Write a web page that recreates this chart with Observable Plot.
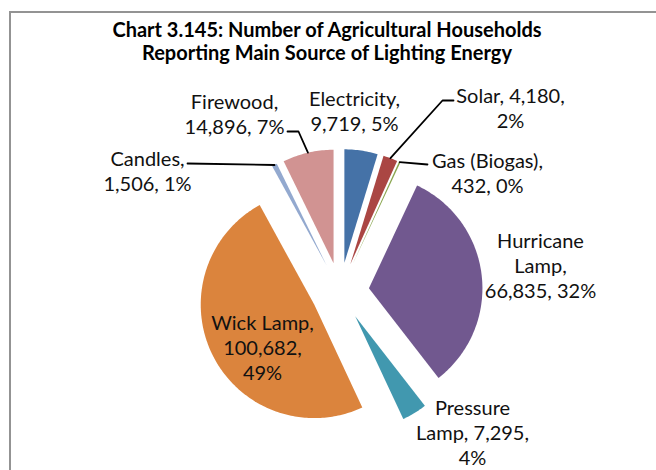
<!DOCTYPE html>
<html><head><meta charset="utf-8">
<script src="https://cdn.jsdelivr.net/npm/d3@7"></script>
<script src="https://cdn.jsdelivr.net/npm/@observablehq/plot@0.6"></script>
<style>
html,body{margin:0;padding:0;background:#fff;overflow:hidden;width:656px;height:470px;}
#frame{position:absolute;left:9px;top:11px;width:800px;height:600px;border:2px solid #939393;box-sizing:border-box;}
#title{position:relative;padding-top:18px;height:47px;font-family:Lato,sans-serif;font-weight:bold;font-size:20px;line-height:23px;text-align:center;width:654px;color:#000;white-space:nowrap;}
#chart{position:relative;height:405px;}
</style></head><body>
<div id="frame"></div>
<div id="title">Chart 3.145: Number of Agricultural Households<br>Reporting Main Source of Lighting Energy</div>
<div id="chart"></div>
<script>
// ---- data ----
const categories = ["Electricity","Solar","Gas (Biogas)","Hurricane Lamp","Pressure Lamp","Wick Lamp","Candles","Firewood"];
const households = [9719,4180,432,66835,7295,100682,1506,14896];
const percentLabels = ["5%","2%","0%","32%","4%","49%","1%","7%"];
const colors = ["#4572A7","#AA4643","#89A54E","#71588F","#4198AF","#DB843D","#93A9CF","#D19392"];
// words per label line
const wrap = [[1,2],[2,1],[2,2],[1,1,2],[1,2,1],[2,1,1],[1,2],[1,2]];

// ---- layout (page pixels) ----
const cx = 339.6, cy = 291, R = 113.5, explode = 29;
const labelAt = [[354,110],[510,107],[487,172],[540,264],[472,431],[262,346],[147,170],[234,113]];
// leader-line extra points (after the slice's outer point)
const leaderVia = {"Solar":[[442,100],[453,100]],"Gas (Biogas)":[[427,164]],"Firewood":[[298,131],[287,131]],"Candles":[[187,163]]};

const fmt = d3.format(",");
const arcs = d3.pie().sort(null).value(d => d)(households);
const slicePts = [], outer = {};
arcs.forEach((a, i) => {
  const mid = (a.startAngle + a.endAngle) / 2;
  const ox = cx + explode * Math.sin(mid), oy = cy - explode * Math.cos(mid);
  const n = Math.max(2, Math.ceil((a.endAngle - a.startAngle) / (Math.PI / 180)));
  slicePts.push({name: categories[i], x: ox, y: oy});
  for (let k = 0; k <= n; k++) {
    const t = a.startAngle + (a.endAngle - a.startAngle) * k / n;
    slicePts.push({name: categories[i], x: ox + R * Math.sin(t), y: oy - R * Math.cos(t)});
  }
  outer[categories[i]] = [ox + R * Math.sin(mid), oy - R * Math.cos(mid)];
});

const leaderPts = [];
for (const [name, via] of Object.entries(leaderVia)) {
  [outer[name], ...via].forEach(([x, y]) => leaderPts.push({name, x, y}));
}

const labels = categories.map((c, i) => {
  const tokens = `${c}, ${fmt(households[i])}, ${percentLabels[i]}`.split(" ");
  const lines = []; let p = 0;
  for (const n of wrap[i]) { lines.push(tokens.slice(p, p + n).join(" ")); p += n; }
  return {name: c, x: labelAt[i][0], y: labelAt[i][1], text: lines.join("\n")};
});

const chart = Plot.plot({
  width: 656, height: 405, margin: 0,
  style: {background: "transparent", overflow: "visible"},
  x: {domain: [0, 656], range: [0, 656], axis: null},
  y: {domain: [65, 470], range: [0, 405], axis: null},
  color: {domain: categories, range: colors},
  marks: [
    Plot.line(slicePts, {x: "x", y: "y", z: "name", fill: "name", stroke: "none"}),
    Plot.line(leaderPts, {x: "x", y: "y", z: "name", stroke: "#000", strokeWidth: 1.8}),
    Plot.text(labels, {x: "x", y: "y", text: "text", fontSize: 20, fontFamily: "Lato, sans-serif",
      lineHeight: 1.25, textAnchor: "middle", lineAnchor: "middle", fill: "#111"})
  ]
});
document.getElementById("chart").appendChild(chart);
</script>
</body></html>
